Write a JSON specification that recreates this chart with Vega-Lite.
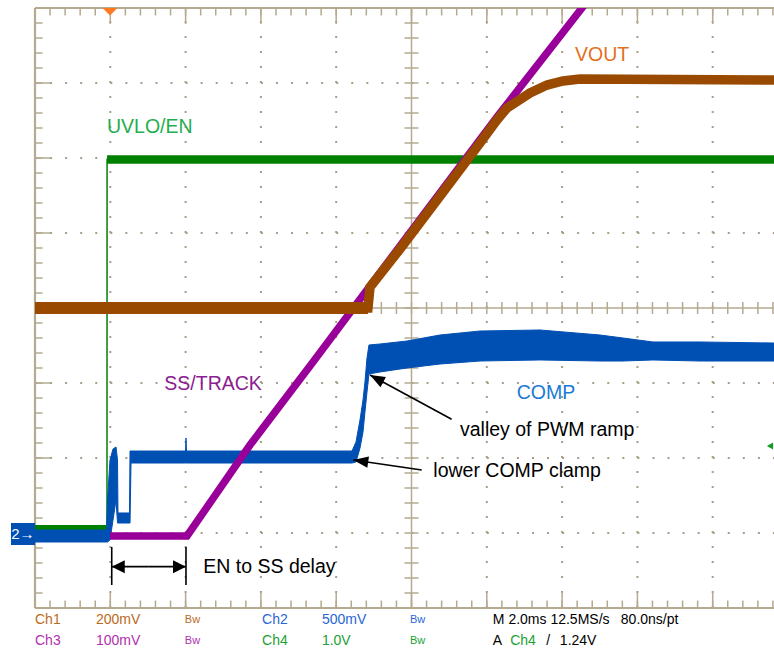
{
  "$schema": "https://vega.github.io/schema/vega-lite/v6.json",
  "width": 739,
  "height": 600,
  "autosize": "none",
  "padding": {"left": 35, "top": 8, "right": 0, "bottom": 46},
  "background": "white",
  "config": {
    "view": {"stroke": null},
    "axis": {"disable": true},
    "legend": {"disable": true},
    "text": {"font": "Liberation Sans"}
  },
  "data": {"values": [{}]},
  "datasets": {
    "xgrid": [{"gx": 1}, {"gx": 2}, {"gx": 3}, {"gx": 4}, {"gx": 6}, {"gx": 7}, {"gx": 8}, {"gx": 9}],
    "ygrid": [{"gy": 1}, {"gy": 2}, {"gy": 3}, {"gy": 5}, {"gy": 6}, {"gy": 7}],
    "xmajor": [{"gx": 1}, {"gx": 2}, {"gx": 3}, {"gx": 4}, {"gx": 5}, {"gx": 6}, {"gx": 7}, {"gx": 8}, {"gx": 9}],
    "ymajor": [{"gy": 1}, {"gy": 2}, {"gy": 3}, {"gy": 4}, {"gy": 5}, {"gy": 6}, {"gy": 7}],
    "xminor": [{"gx": 0.2}, {"gx": 0.4}, {"gx": 0.6}, {"gx": 0.8}, {"gx": 1}, {"gx": 1.2}, {"gx": 1.4}, {"gx": 1.6}, {"gx": 1.8}, {"gx": 2}, {"gx": 2.2}, {"gx": 2.4}, {"gx": 2.6}, {"gx": 2.8}, {"gx": 3}, {"gx": 3.2}, {"gx": 3.4}, {"gx": 3.6}, {"gx": 3.8}, {"gx": 4}, {"gx": 4.2}, {"gx": 4.4}, {"gx": 4.6}, {"gx": 4.8}, {"gx": 5}, {"gx": 5.2}, {"gx": 5.4}, {"gx": 5.6}, {"gx": 5.8}, {"gx": 6}, {"gx": 6.2}, {"gx": 6.4}, {"gx": 6.6}, {"gx": 6.8}, {"gx": 7}, {"gx": 7.2}, {"gx": 7.4}, {"gx": 7.6}, {"gx": 7.8}, {"gx": 8}, {"gx": 8.2}, {"gx": 8.4}, {"gx": 8.6}, {"gx": 8.8}, {"gx": 9}, {"gx": 9.2}, {"gx": 9.4}, {"gx": 9.6}, {"gx": 9.8}],
    "yminor": [{"gy": 0.2}, {"gy": 0.4}, {"gy": 0.6}, {"gy": 0.8}, {"gy": 1}, {"gy": 1.2}, {"gy": 1.4}, {"gy": 1.6}, {"gy": 1.8}, {"gy": 2}, {"gy": 2.2}, {"gy": 2.4}, {"gy": 2.6}, {"gy": 2.8}, {"gy": 3}, {"gy": 3.2}, {"gy": 3.4}, {"gy": 3.6}, {"gy": 3.8}, {"gy": 4}, {"gy": 4.2}, {"gy": 4.4}, {"gy": 4.6}, {"gy": 4.8}, {"gy": 5}, {"gy": 5.2}, {"gy": 5.4}, {"gy": 5.6}, {"gy": 5.8}, {"gy": 6}, {"gy": 6.2}, {"gy": 6.4}, {"gy": 6.6}, {"gy": 6.8}, {"gy": 7}, {"gy": 7.2}, {"gy": 7.4}, {"gy": 7.6}, {"gy": 7.8}],
    "en": [{"t": 0, "v": 1.067}, {"t": 0.956, "v": 1.067}, {"t": 0.957, "v": 5.98}, {"t": 9.814, "v": 5.98}],
    "comp": [
      {"t": 0, "hi": 1.04, "lo": 0.88},
      {"t": 0.95, "hi": 1.04, "lo": 0.88},
      {"t": 0.963, "hi": 1.44, "lo": 0.88},
      {"t": 0.996, "hi": 1.973, "lo": 0.907},
      {"t": 1.036, "hi": 2.12, "lo": 1.173},
      {"t": 1.076, "hi": 2.147, "lo": 1.44},
      {"t": 1.096, "hi": 1.973, "lo": 1.133},
      {"t": 1.102, "hi": 1.267, "lo": 1.133},
      {"t": 1.255, "hi": 1.267, "lo": 1.133},
      {"t": 1.262, "hi": 2.093, "lo": 1.133},
      {"t": 1.275, "hi": 2.093, "lo": 1.933},
      {"t": 1.999, "hi": 2.093, "lo": 1.933},
      {"t": 2.005, "hi": 2.267, "lo": 1.933},
      {"t": 2.012, "hi": 2.093, "lo": 1.933},
      {"t": 4.183, "hi": 2.093, "lo": 1.933},
      {"t": 4.21, "hi": 2.093, "lo": 1.933},
      {"t": 4.263, "hi": 2.213, "lo": 1.947},
      {"t": 4.316, "hi": 2.507, "lo": 2.133},
      {"t": 4.356, "hi": 2.773, "lo": 2.347},
      {"t": 4.382, "hi": 3.013, "lo": 2.613},
      {"t": 4.409, "hi": 3.333, "lo": 2.88},
      {"t": 4.435, "hi": 3.507, "lo": 3.12},
      {"t": 4.582, "hi": 3.52, "lo": 3.147},
      {"t": 4.94, "hi": 3.56, "lo": 3.2},
      {"t": 5.378, "hi": 3.64, "lo": 3.253},
      {"t": 5.91, "hi": 3.693, "lo": 3.293},
      {"t": 6.706, "hi": 3.707, "lo": 3.307},
      {"t": 7.503, "hi": 3.64, "lo": 3.293},
      {"t": 7.809, "hi": 3.6, "lo": 3.293},
      {"t": 8.207, "hi": 3.547, "lo": 3.307},
      {"t": 8.831, "hi": 3.547, "lo": 3.293},
      {"t": 9.814, "hi": 3.533, "lo": 3.293}
    ],
    "ss": [{"t": 0.996, "v": 0.96}, {"t": 2.019, "v": 0.96}, {"t": 2.855, "v": 2.173}, {"t": 3.692, "v": 3.28}, {"t": 4.847, "v": 4.827}, {"t": 6.135, "v": 6.547}, {"t": 7.264, "v": 8.0}, {"t": 7.371, "v": 8.14}],
    "vout": [{"t": 0, "v": 4.0}, {"t": 4.422, "v": 4.0}, {"t": 4.449, "v": 4.28}, {"t": 4.847, "v": 4.787}, {"t": 5.378, "v": 5.493}, {"t": 5.91, "v": 6.2}, {"t": 6.135, "v": 6.507}, {"t": 6.268, "v": 6.667}, {"t": 6.574, "v": 6.867}, {"t": 6.799, "v": 6.973}, {"t": 7.012, "v": 7.027}, {"t": 7.238, "v": 7.053}, {"t": 9.814, "v": 7.04}],
    "labels": [
      {"text": "UVLO/EN", "x": 0.956, "y": 6.337, "c": "en"},
      {"text": "VOUT", "x": 7.171, "y": 7.293, "c": "vout"},
      {"text": "SS/TRACK", "x": 1.717, "y": 2.907, "c": "ss"},
      {"text": "COMP", "x": 6.397, "y": 2.783, "c": "comp"},
      {"text": "valley of PWM ramp", "x": 5.644, "y": 2.293, "c": "note"},
      {"text": "lower COMP clamp", "x": 5.29, "y": 1.751, "c": "note"},
      {"text": "EN to SS delay", "x": 2.235, "y": 0.463, "c": "note"}
    ],
    "arrows": [
      {"id": "valley", "x0": 5.533, "y0": 2.516, "x1": 4.449, "y1": 3.107},
      {"id": "clamp", "x0": 5.135, "y0": 1.84, "x1": 4.227, "y1": 1.973},
      {"id": "delayL", "x0": 1.512, "y0": 0.551, "x1": 1.019, "y1": 0.551},
      {"id": "delayR", "x0": 1.512, "y0": 0.551, "x1": 2.005, "y1": 0.551}
    ],
    "bars": [{"x": 1.019, "y0": 0.307, "y1": 0.813}, {"x": 2.005, "y0": 0.307, "y1": 0.813}],
    "status": [
      {"text": "Ch1", "x": 0.0, "y": -0.16, "c": "ch1"},
      {"text": "200mV", "x": 0.81, "y": -0.16, "c": "ch1"},
      {"text": "Ch2", "x": 3.015, "y": -0.16, "c": "ch2"},
      {"text": "500mV", "x": 3.81, "y": -0.16, "c": "ch2"},
      {"text": "M 2.0ms 12.5MS/s", "x": 6.08, "y": -0.16, "c": "k"},
      {"text": "80.0ns/pt", "x": 7.78, "y": -0.16, "c": "k"},
      {"text": "Ch3", "x": 0.0, "y": -0.44, "c": "ch3"},
      {"text": "100mV", "x": 0.81, "y": -0.44, "c": "ch3"},
      {"text": "Ch4", "x": 3.015, "y": -0.44, "c": "ch4"},
      {"text": "1.0V", "x": 3.81, "y": -0.44, "c": "ch4"},
      {"text": "A", "x": 6.08, "y": -0.44, "c": "k"},
      {"text": "Ch4", "x": 6.31, "y": -0.44, "c": "ch4"},
      {"text": "/", "x": 6.79, "y": -0.44, "c": "k"},
      {"text": "1.24V", "x": 6.97, "y": -0.44, "c": "k"}
    ],
    "bw": [
      {"text": "Bw", "x": 1.99, "y": -0.16, "c": "ch1"},
      {"text": "Bw", "x": 4.98, "y": -0.16, "c": "ch2"},
      {"text": "Bw", "x": 1.99, "y": -0.44, "c": "ch3"},
      {"text": "Bw", "x": 4.98, "y": -0.44, "c": "ch4"}
    ]
  },
  "layer": [
    {
      "data": {"name": "xgrid"},
      "mark": {"type": "rule", "color": "#a69f87", "strokeWidth": 2, "strokeDash": [2, 13]},
      "encoding": {
        "x": {"field": "gx", "type": "quantitative", "scale": {"domain": [0, 9.814], "nice": false, "zero": false}},
        "y": {"datum": 0, "type": "quantitative", "scale": {"domain": [0, 8], "nice": false, "zero": false}},
        "y2": {"datum": 8}
      }
    },
    {
      "data": {"name": "ygrid"},
      "mark": {"type": "rule", "color": "#a69f87", "strokeWidth": 2, "strokeDash": [2, 13.06]},
      "encoding": {
        "y": {"field": "gy", "type": "quantitative"},
        "x": {"datum": 0, "type": "quantitative"},
        "x2": {"datum": 9.814}
      }
    },
    {
      "mark": {"type": "rule", "color": "#b3aa90", "strokeWidth": 1.5},
      "encoding": {"x": {"datum": 5, "type": "quantitative"}, "y": {"datum": 0, "type": "quantitative"}, "y2": {"datum": 8}}
    },
    {
      "mark": {"type": "rule", "color": "#b3aa90", "strokeWidth": 1.5},
      "encoding": {"y": {"datum": 4, "type": "quantitative"}, "x": {"datum": 0, "type": "quantitative"}, "x2": {"datum": 9.814}}
    },
    {
      "data": {"name": "xminor"},
      "mark": {"type": "tick", "color": "#b3aa90", "orient": "vertical", "size": 12, "thickness": 1.5, "opacity": 1},
      "encoding": {"x": {"field": "gx", "type": "quantitative"}, "y": {"datum": 4, "type": "quantitative"}}
    },
    {
      "data": {"name": "yminor"},
      "mark": {"type": "tick", "color": "#b3aa90", "orient": "horizontal", "size": 14, "thickness": 1.5, "opacity": 1},
      "encoding": {"y": {"field": "gy", "type": "quantitative"}, "x": {"datum": 5, "type": "quantitative"}}
    },
    {
      "mark": {"type": "rule", "color": "#b3aa90", "strokeWidth": 2.2},
      "encoding": {"y": {"datum": 8, "type": "quantitative"}, "x": {"datum": 0, "type": "quantitative"}, "x2": {"datum": 9.814}}
    },
    {
      "mark": {"type": "rule", "color": "#b3aa90", "strokeWidth": 2.2},
      "encoding": {"y": {"datum": 0, "type": "quantitative"}, "x": {"datum": 0, "type": "quantitative"}, "x2": {"datum": 9.814}}
    },
    {
      "mark": {"type": "rule", "color": "#b3aa90", "strokeWidth": 2.2},
      "encoding": {"x": {"datum": 0, "type": "quantitative"}, "y": {"datum": 0, "type": "quantitative"}, "y2": {"datum": 8}}
    },
    {
      "data": {"name": "xminor"},
      "mark": {"type": "rule", "color": "#b3aa90", "strokeWidth": 1.5},
      "encoding": {"x": {"field": "gx", "type": "quantitative"}, "y": {"datum": 8, "type": "quantitative"}, "y2": {"datum": 7.9}}
    },
    {
      "data": {"name": "xmajor"},
      "mark": {"type": "rule", "color": "#b3aa90", "strokeWidth": 1.5},
      "encoding": {"x": {"field": "gx", "type": "quantitative"}, "y": {"datum": 8, "type": "quantitative"}, "y2": {"datum": 7.787}}
    },
    {
      "data": {"name": "xminor"},
      "mark": {"type": "rule", "color": "#b3aa90", "strokeWidth": 1.5},
      "encoding": {"x": {"field": "gx", "type": "quantitative"}, "y": {"datum": 0, "type": "quantitative"}, "y2": {"datum": 0.1}}
    },
    {
      "data": {"name": "xmajor"},
      "mark": {"type": "rule", "color": "#b3aa90", "strokeWidth": 1.5},
      "encoding": {"x": {"field": "gx", "type": "quantitative"}, "y": {"datum": 0, "type": "quantitative"}, "y2": {"datum": 0.213}}
    },
    {
      "data": {"name": "yminor"},
      "mark": {"type": "rule", "color": "#b3aa90", "strokeWidth": 1.5},
      "encoding": {"y": {"field": "gy", "type": "quantitative"}, "x": {"datum": 0, "type": "quantitative"}, "x2": {"datum": 0.1}}
    },
    {
      "data": {"name": "ymajor"},
      "mark": {"type": "rule", "color": "#b3aa90", "strokeWidth": 1.5},
      "encoding": {"y": {"field": "gy", "type": "quantitative"}, "x": {"datum": 0, "type": "quantitative"}, "x2": {"datum": 0.212}}
    },
    {
      "data": {"name": "en"},
      "mark": {"type": "line", "color": "#008000", "strokeWidth": 1.5, "clip": true},
      "encoding": {"x": {"field": "t", "type": "quantitative"}, "y": {"field": "v", "type": "quantitative"}}
    },
    {
      "data": {"name": "en"},
      "transform": [{"filter": "datum.t <= 0.956"}],
      "mark": {"type": "line", "color": "#008000", "strokeWidth": 6, "clip": true},
      "encoding": {"x": {"field": "t", "type": "quantitative"}, "y": {"field": "v", "type": "quantitative"}}
    },
    {
      "data": {"name": "en"},
      "transform": [{"filter": "datum.t >= 0.957"}],
      "mark": {"type": "line", "color": "#008000", "strokeWidth": 8.5, "clip": true},
      "encoding": {"x": {"field": "t", "type": "quantitative"}, "y": {"field": "v", "type": "quantitative"}}
    },
    {
      "data": {"name": "comp"},
      "mark": {"type": "area", "color": "#0050b4", "opacity": 1, "clip": true, "stroke": "#0050b4", "strokeWidth": 1},
      "encoding": {"x": {"field": "t", "type": "quantitative"}, "y": {"field": "hi", "type": "quantitative"}, "y2": {"field": "lo"}}
    },
    {
      "data": {"name": "ss"},
      "mark": {"type": "line", "color": "#990099", "strokeWidth": 7.5, "clip": true},
      "encoding": {"x": {"field": "t", "type": "quantitative"}, "y": {"field": "v", "type": "quantitative"}}
    },
    {
      "data": {"name": "vout"},
      "mark": {"type": "line", "color": "#9a4a00", "strokeWidth": 9.5, "clip": true},
      "encoding": {"x": {"field": "t", "type": "quantitative"}, "y": {"field": "v", "type": "quantitative"}}
    },
    {
      "data": {"name": "vout"},
      "transform": [{"filter": "datum.t <= 4.422"}],
      "mark": {"type": "line", "color": "#9a4a00", "strokeWidth": 12, "clip": true},
      "encoding": {"x": {"field": "t", "type": "quantitative"}, "y": {"field": "v", "type": "quantitative"}}
    },
    {
      "data": {"name": "labels"},
      "mark": {"type": "text", "align": "left", "baseline": "alphabetic", "fontSize": 19.5, "font": "Liberation Sans"},
      "encoding": {
        "x": {"field": "x", "type": "quantitative"},
        "y": {"field": "y", "type": "quantitative"},
        "text": {"field": "text"},
        "color": {"field": "c", "type": "nominal", "legend": null, "scale": {"domain": ["en", "vout", "ss", "comp", "note", "ch1", "ch2", "ch3", "ch4", "k"], "range": ["#1fae50", "#e2701e", "#8b2090", "#1a7ad4", "#000000", "#bb6a22", "#2a66d6", "#b030b0", "#22a034", "#000000"]}}
      }
    },
    {
      "data": {"name": "arrows"},
      "mark": {"type": "rule", "color": "#000000", "strokeWidth": 1.6},
      "encoding": {
        "x": {"field": "x0", "type": "quantitative"}, "y": {"field": "y0", "type": "quantitative"},
        "x2": {"field": "x1"}, "y2": {"field": "y1"}
      }
    },
    {
      "data": {"name": "bars"},
      "mark": {"type": "rule", "color": "#000000", "strokeWidth": 1.6},
      "encoding": {"x": {"field": "x", "type": "quantitative"}, "y": {"field": "y0", "type": "quantitative"}, "y2": {"field": "y1"}}
    },
    {
      "data": {"name": "arrows"},
      "transform": [{"filter": "datum.id === 'valley'"}],
      "mark": {"type": "point", "shape": "M0,0L-0.38,1L0.38,1Z", "size": 900, "filled": true, "opacity": 1, "color": "#000000", "angle": 298.5},
      "encoding": {"x": {"field": "x1", "type": "quantitative"}, "y": {"field": "y1", "type": "quantitative"}}
    },
    {
      "data": {"name": "arrows"},
      "transform": [{"filter": "datum.id === 'clamp'"}],
      "mark": {"type": "point", "shape": "M0,0L-0.38,1L0.38,1Z", "size": 900, "filled": true, "opacity": 1, "color": "#000000", "angle": 278.3},
      "encoding": {"x": {"field": "x1", "type": "quantitative"}, "y": {"field": "y1", "type": "quantitative"}}
    },
    {
      "data": {"name": "arrows"},
      "transform": [{"filter": "datum.id === 'delayL'"}],
      "mark": {"type": "point", "shape": "M0,0L-0.5,1L0.5,1Z", "size": 676, "filled": true, "opacity": 1, "color": "#000000", "angle": 270},
      "encoding": {"x": {"field": "x1", "type": "quantitative"}, "y": {"field": "y1", "type": "quantitative"}}
    },
    {
      "data": {"name": "arrows"},
      "transform": [{"filter": "datum.id === 'delayR'"}],
      "mark": {"type": "point", "shape": "M0,0L-0.5,1L0.5,1Z", "size": 676, "filled": true, "opacity": 1, "color": "#000000", "angle": 90},
      "encoding": {"x": {"field": "x1", "type": "quantitative"}, "y": {"field": "y1", "type": "quantitative"}}
    },
    {
      "mark": {"type": "point", "shape": "M-1,-0.5L1,-0.5L0,0.5Z", "size": 225, "filled": true, "opacity": 1, "color": "#ff7a22"},
      "encoding": {"x": {"datum": 0.996, "type": "quantitative"}, "y": {"datum": 7.95, "type": "quantitative"}}
    },
    {
      "mark": {"type": "rect", "color": "#0050b4"},
      "encoding": {"x": {"datum": -0.319, "type": "quantitative"}, "x2": {"datum": 0}, "y": {"datum": 0.84, "type": "quantitative"}, "y2": {"datum": 1.133}}
    },
    {
      "mark": {"type": "text", "text": "2→", "color": "#ffffff", "fontSize": 15, "align": "center", "baseline": "middle", "font": "Liberation Sans"},
      "encoding": {"x": {"datum": -0.16, "type": "quantitative"}, "y": {"datum": 0.985, "type": "quantitative"}}
    },
    {
      "mark": {"type": "point", "shape": "triangle-left", "size": 50, "filled": true, "opacity": 1, "color": "#10a020"},
      "encoding": {"x": {"datum": 9.761, "type": "quantitative"}, "y": {"datum": 2.16, "type": "quantitative"}}
    },
    {
      "data": {"name": "status"},
      "mark": {"type": "text", "align": "left", "baseline": "middle", "fontSize": 14, "font": "Liberation Sans"},
      "encoding": {
        "x": {"field": "x", "type": "quantitative"},
        "y": {"field": "y", "type": "quantitative"},
        "text": {"field": "text"},
        "color": {"field": "c", "type": "nominal", "legend": null}
      }
    },
    {
      "data": {"name": "bw"},
      "mark": {"type": "text", "align": "left", "baseline": "middle", "fontSize": 11, "font": "Liberation Sans"},
      "encoding": {
        "x": {"field": "x", "type": "quantitative"},
        "y": {"field": "y", "type": "quantitative"},
        "text": {"field": "text"},
        "color": {"field": "c", "type": "nominal", "legend": null}
      }
    }
  ]
}
